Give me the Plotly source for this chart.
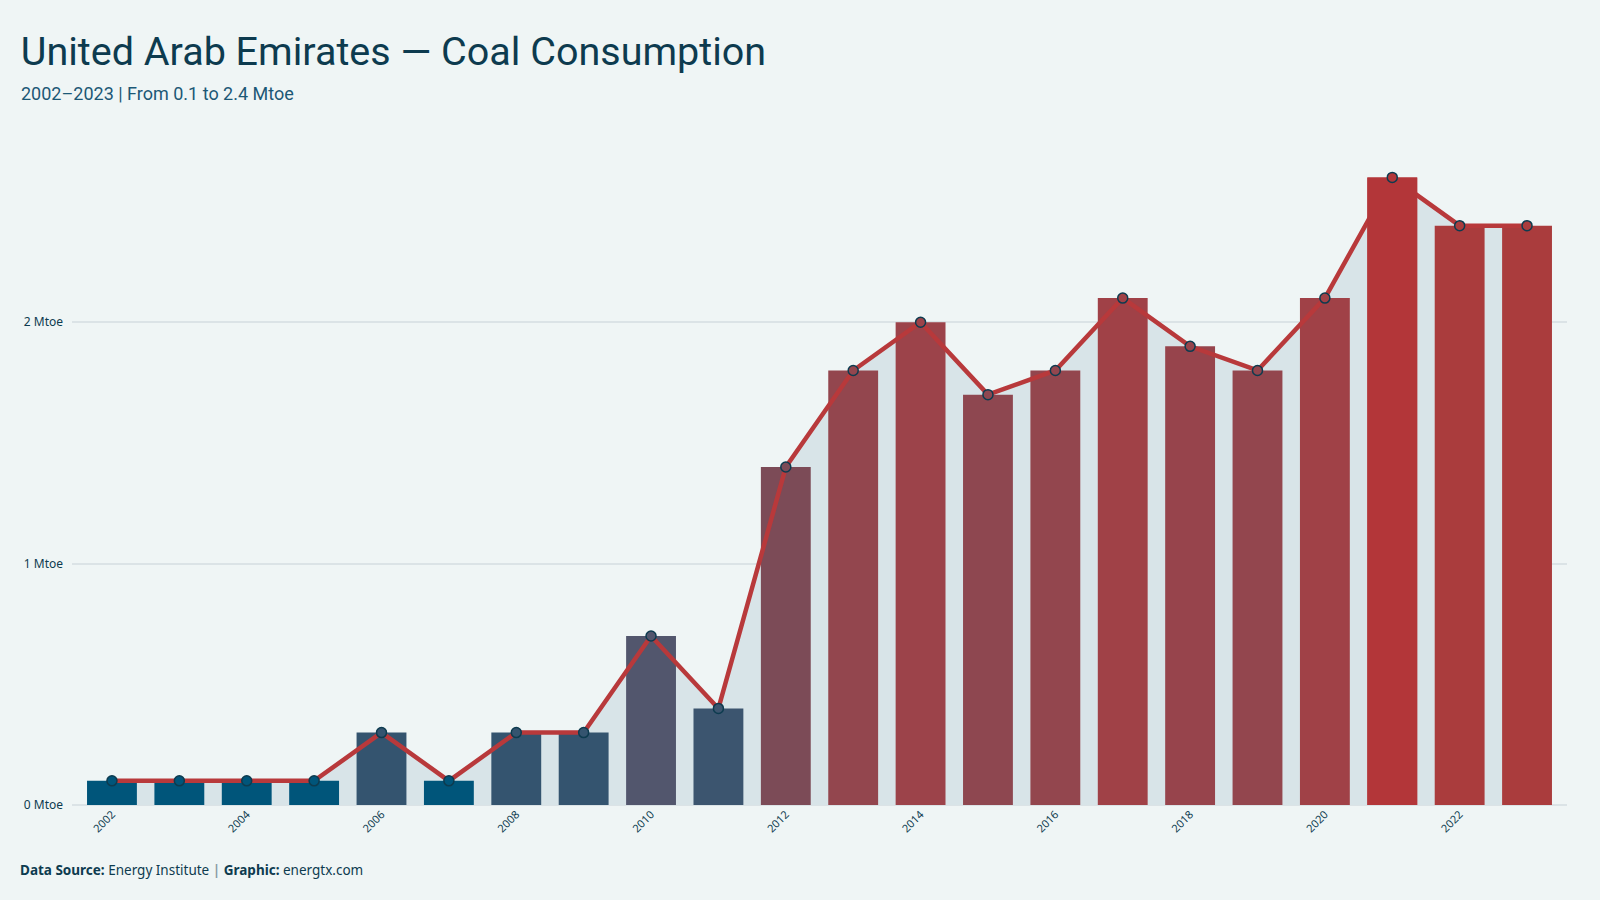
import plotly.graph_objects as go

years = list(range(2002, 2024))
values = [0.1, 0.1, 0.1, 0.1, 0.3, 0.1, 0.3, 0.3, 0.7, 0.4, 1.4, 1.8,
          2.0, 1.7, 1.8, 2.1, 1.9, 1.8, 2.1, 2.6, 2.4, 2.4]
tick_years = list(range(2002, 2023, 2))
y_ticks = [0, 1, 2]
y_ticktext = ["0 Mtoe", "1 Mtoe", "2 Mtoe"]

title = "United Arab Emirates — Coal Consumption"
subtitle = "2002–2023 | From 0.1 to 2.4 Mtoe"

BG = "#eff5f5"
DARK = "#0d3b4f"
LINE = "#b8393b"
colorscale = [[0, "#00557a"], [0.08, "#34546f"], [0.24, "#52566d"],
              [0.52, "#7c4b57"], [0.64, "#8e4750"], [0.76, "#9c434a"],
              [0.92, "#aa3c3d"], [1, "#b33639"]]
vmin, vmax = min(values), max(values)

L, R, T, B = 72, 33, 146, 95
W, H = 1600, 900
pw, ph = W - L - R, H - T - B
def px_x(x):
    return (x - L) / pw
def px_y(y):
    return (H - B - y) / ph

XR = [2002 - 0.593, 2023 + 0.593]
YR = [0, 2.73]

fig = go.Figure()
# layer 1: area
fig.add_trace(go.Scatter(x=years, y=values, mode="lines", fill="tozeroy",
                         fillcolor="#d8e4e8", line=dict(width=0),
                         hoverinfo="skip", showlegend=False, xaxis="x", yaxis="y"))
# layer 2: bars + line
fig.add_trace(go.Bar(x=years, y=values, width=0.74,
                     marker=dict(color=values, colorscale=colorscale,
                                 cmin=vmin, cmax=vmax, line=dict(width=0)),
                     showlegend=False, xaxis="x2", yaxis="y2"))
fig.add_trace(go.Scatter(x=years, y=values, mode="lines",
                         line=dict(color=LINE, width=4.5), showlegend=False,
                         xaxis="x2", yaxis="y2"))
# layer 3: highlighted max bar + markers
imax = values.index(vmax)
fig.add_trace(go.Bar(x=[years[imax]], y=[vmax], width=0.74,
                     marker=dict(color=[vmax], colorscale=colorscale,
                                 cmin=vmin, cmax=vmax, line=dict(width=0)),
                     showlegend=False, xaxis="x3", yaxis="y3"))
fig.add_trace(go.Scatter(x=years, y=values, mode="markers",
                         marker=dict(size=10, color=values, colorscale=colorscale,
                                     cmin=vmin, cmax=vmax,
                                     line=dict(color=DARK, width=1.5)),
                         showlegend=False, xaxis="x3", yaxis="y3"))

hidden = dict(visible=False, showgrid=False, zeroline=False)
TITLE_FONT = "Roboto, sans-serif"

fig.update_layout(
    width=W, height=H,
    paper_bgcolor=BG, plot_bgcolor=BG,
    barmode="overlay",
    margin=dict(l=L, r=R, t=T, b=B),
    title=dict(text=title, x=0.013, xref="container", xanchor="left",
               y=0.958, yref="container", yanchor="top",
               font=dict(family=TITLE_FONT, size=39.5, color=DARK)),
    xaxis=dict(range=XR, tickvals=tick_years,
               tickangle=-45, showgrid=False, zeroline=False,
               tickfont=dict(family="Noto Sans, sans-serif", size=11, color=DARK),
               ticks="", showline=False),
    yaxis=dict(range=YR, tickvals=y_ticks, ticktext=y_ticktext,
               showgrid=True, gridcolor="#dbe3e6", gridwidth=1.5,
               zeroline=True, zerolinecolor="#dbe3e6", zerolinewidth=2,
               tickfont=dict(family="Noto Sans, sans-serif", size=12, color=DARK),
               ticks="", ticklabelstandoff=8),
    xaxis2=dict(range=XR, overlaying="x", **hidden),
    yaxis2=dict(range=YR, overlaying="y", **hidden),
    xaxis3=dict(range=XR, overlaying="x", **hidden),
    yaxis3=dict(range=YR, overlaying="y", **hidden),
    annotations=[
        dict(text=subtitle, xref="paper", yref="paper", x=px_x(19), y=px_y(93),
             xanchor="left", yanchor="middle", showarrow=False,
             font=dict(family=TITLE_FONT, size=18, color="#1c5876")),
        dict(text="<b>Data Source:</b> Energy Institute <span style='color:#8a9ba5'><b>|</b></span> <b>Graphic:</b> energtx.com",
             xref="paper", yref="paper", x=px_x(18), y=px_y(870),
             xanchor="left", yanchor="middle", showarrow=False,
             font=dict(family="Noto Sans, sans-serif", size=13.5, color=DARK)),
    ],
)

fig.write_html("out.html")
